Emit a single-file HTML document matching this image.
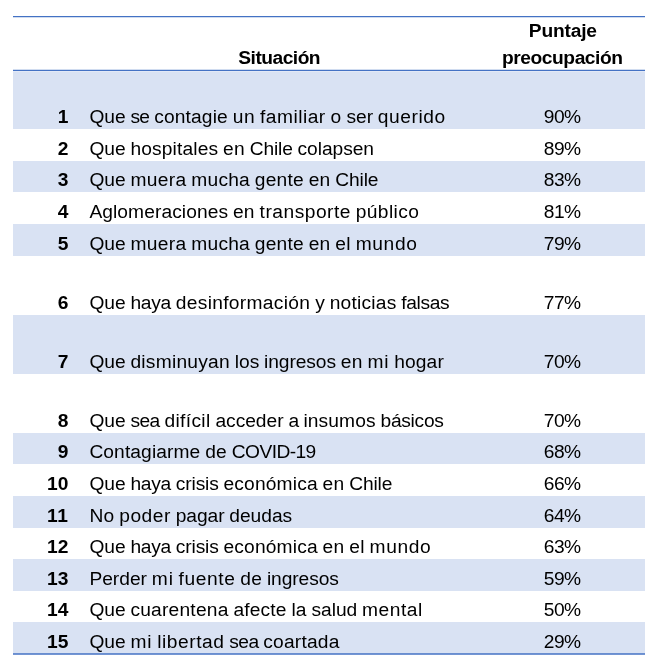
<!DOCTYPE html>
<html lang="es">
<head>
<meta charset="utf-8">
<title>Puntaje preocupación</title>
<style>
html,body{margin:0;padding:0;background:#fff;}
body{width:661px;height:664px;position:relative;overflow:hidden;font-family:"Liberation Sans",sans-serif;color:#000;}
.band{position:absolute;left:13px;width:632px;background:#d9e2f3;}
.ln{position:absolute;left:13px;width:632px;background:#4472c4;}
.t{position:absolute;white-space:pre;font-size:19.2px;line-height:24px;height:24px;}
.t span{position:absolute;top:0;left:0;white-space:pre;}
.b{font-weight:700;}
.r{font-weight:400;}
</style>
</head>
<body>

<div class="band" style="top:70px;height:59px"></div>
<div class="band" style="top:161px;height:31px"></div>
<div class="band" style="top:224px;height:32px"></div>
<div class="band" style="top:315px;height:59px"></div>
<div class="band" style="top:433px;height:31px"></div>
<div class="band" style="top:496px;height:32px"></div>
<div class="band" style="top:559px;height:32px"></div>
<div class="band" style="top:622px;height:31px"></div>
<div class="ln" style="top:16px;height:1px"></div>
<div class="ln" style="top:17px;height:1px;opacity:.25"></div>
<div class="ln" style="top:69px;height:1px;opacity:.25"></div>
<div class="ln" style="top:70px;height:1px"></div>
<div class="ln" style="top:71px;height:1px;background:#e3e9f6"></div>
<div class="ln" style="top:653px;height:1px;opacity:.8"></div>
<div class="ln" style="top:654px;height:1px;opacity:.75"></div>
<div class="t b" style="left:238.31px;top:45.75px;letter-spacing:-0.509px">Situación</div>
<div class="t b" style="left:528.82px;top:19.05px;letter-spacing:-0.194px">Puntaje</div>
<div class="t b" style="left:502.08px;top:45.75px;letter-spacing:-0.448px">preocupación</div>
<div class="t b" style="left:57.69px;top:104.85px;letter-spacing:0.14px">1</div>
<div class="t r" style="left:89.4px;top:104.85px"><span style="left:0px;letter-spacing:-0.035px">Que </span><span style="left:41px;letter-spacing:-0.654px">se </span><span style="left:64.78px;letter-spacing:0.152px">contagie </span><span style="left:143.36px;letter-spacing:0.536px">un </span><span style="left:170.6px;letter-spacing:0.482px">familiar </span><span style="left:241.12px;letter-spacing:0.578px">o </span><span style="left:257.19px;letter-spacing:-0.087px">ser </span><span style="left:288.41px;letter-spacing:0.544px">querido</span></div>
<div class="t r" style="left:543.76px;top:104.85px;letter-spacing:-0.511px">90%</div>
<div class="t b" style="left:57.69px;top:136.85px;letter-spacing:0.14px">2</div>
<div class="t r" style="left:89.4px;top:136.85px"><span style="left:0px;letter-spacing:-0.035px">Que </span><span style="left:41px;letter-spacing:0.146px">hospitales </span><span style="left:133.69px;letter-spacing:0.239px">en </span><span style="left:160.33px;letter-spacing:-0.149px">Chile </span><span style="left:208.14px;letter-spacing:-0.042px">colapsen</span></div>
<div class="t r" style="left:543.76px;top:136.85px;letter-spacing:-0.511px">89%</div>
<div class="t b" style="left:57.69px;top:167.85px;letter-spacing:0.14px">3</div>
<div class="t r" style="left:89.4px;top:167.85px"><span style="left:0px;letter-spacing:-0.035px">Que </span><span style="left:41px;letter-spacing:0.338px">muera </span><span style="left:101.9px;letter-spacing:0.221px">mucha </span><span style="left:165.42px;letter-spacing:0.201px">gente </span><span style="left:219.27px;letter-spacing:0.239px">en </span><span style="left:245.91px;letter-spacing:-0.149px">Chile</span></div>
<div class="t r" style="left:543.76px;top:167.85px;letter-spacing:-0.511px">83%</div>
<div class="t b" style="left:57.69px;top:199.85px;letter-spacing:0.14px">4</div>
<div class="t r" style="left:89.4px;top:199.85px"><span style="left:0px;letter-spacing:0.082px">Aglomeraciones </span><span style="left:143.56px;letter-spacing:0.239px">en </span><span style="left:170.21px;letter-spacing:0.495px">transporte </span><span style="left:266.37px;letter-spacing:0.385px">público</span></div>
<div class="t r" style="left:543.76px;top:199.85px;letter-spacing:-0.511px">81%</div>
<div class="t b" style="left:57.69px;top:231.85px;letter-spacing:0.14px">5</div>
<div class="t r" style="left:89.4px;top:231.85px"><span style="left:0px;letter-spacing:-0.035px">Que </span><span style="left:41px;letter-spacing:0.338px">muera </span><span style="left:101.9px;letter-spacing:0.221px">mucha </span><span style="left:165.42px;letter-spacing:0.201px">gente </span><span style="left:219.27px;letter-spacing:0.239px">en </span><span style="left:245.91px;letter-spacing:0.286px">el </span><span style="left:266.25px;letter-spacing:0.649px">mundo</span></div>
<div class="t r" style="left:543.76px;top:231.85px;letter-spacing:-0.511px">79%</div>
<div class="t b" style="left:57.69px;top:290.85px;letter-spacing:0.14px">6</div>
<div class="t r" style="left:89.4px;top:290.85px"><span style="left:0px;letter-spacing:-0.035px">Que </span><span style="left:41px;letter-spacing:-0.257px">haya </span><span style="left:86.4px;letter-spacing:0.315px">desinformación </span><span style="left:225.76px;letter-spacing:0.062px">y </span><span style="left:240.24px;letter-spacing:0.22px">noticias </span><span style="left:311.88px;letter-spacing:-0.335px">falsas</span></div>
<div class="t r" style="left:543.76px;top:290.85px;letter-spacing:-0.511px">77%</div>
<div class="t b" style="left:57.69px;top:349.85px;letter-spacing:0.14px">7</div>
<div class="t r" style="left:89.4px;top:349.85px"><span style="left:0px;letter-spacing:-0.035px">Que </span><span style="left:41px;letter-spacing:0.25px">disminuyan </span><span style="left:145.38px;letter-spacing:-0.014px">los </span><span style="left:174.7px;letter-spacing:-0.085px">ingresos </span><span style="left:251.37px;letter-spacing:0.239px">en </span><span style="left:278.02px;letter-spacing:0.844px">mi </span><span style="left:304.78px;letter-spacing:0.136px">hogar</span></div>
<div class="t r" style="left:543.76px;top:349.85px;letter-spacing:-0.511px">70%</div>
<div class="t b" style="left:57.69px;top:408.85px;letter-spacing:0.14px">8</div>
<div class="t r" style="left:89.4px;top:408.85px"><span style="left:0px;letter-spacing:-0.035px">Que </span><span style="left:41px;letter-spacing:-0.587px">sea </span><span style="left:75px;letter-spacing:0.356px">difícil </span><span style="left:126.03px;letter-spacing:-0.019px">acceder </span><span style="left:198.99px;letter-spacing:-0.453px">a </span><span style="left:214.03px;letter-spacing:0.12px">insumos </span><span style="left:291.14px;letter-spacing:-0.28px">básicos</span></div>
<div class="t r" style="left:543.76px;top:408.85px;letter-spacing:-0.511px">70%</div>
<div class="t b" style="left:57.69px;top:439.85px;letter-spacing:0.14px">9</div>
<div class="t r" style="left:89.4px;top:439.85px"><span style="left:0px;letter-spacing:0.103px">Contagiarme </span><span style="left:115.81px;letter-spacing:0.239px">de </span><span style="left:142.46px;letter-spacing:-0.586px">COVID-19</span></div>
<div class="t r" style="left:543.76px;top:439.85px;letter-spacing:-0.511px">68%</div>
<div class="t b" style="left:46.88px;top:471.85px;letter-spacing:0.14px">10</div>
<div class="t r" style="left:89.4px;top:471.85px"><span style="left:0px;letter-spacing:-0.035px">Que </span><span style="left:41px;letter-spacing:-0.257px">haya </span><span style="left:86.4px;letter-spacing:-0.128px">crisis </span><span style="left:134.16px;letter-spacing:0.152px">económica </span><span style="left:233.15px;letter-spacing:0.239px">en </span><span style="left:259.8px;letter-spacing:-0.149px">Chile</span></div>
<div class="t r" style="left:543.76px;top:471.85px;letter-spacing:-0.511px">66%</div>
<div class="t b" style="left:46.88px;top:503.85px;letter-spacing:0.664px">11</div>
<div class="t r" style="left:89.4px;top:503.85px"><span style="left:0px;letter-spacing:0.245px">No </span><span style="left:29.84px;letter-spacing:0.528px">poder </span><span style="left:86.38px;letter-spacing:-0.07px">pagar </span><span style="left:139.94px;letter-spacing:-0.025px">deudas</span></div>
<div class="t r" style="left:543.76px;top:503.85px;letter-spacing:-0.511px">64%</div>
<div class="t b" style="left:46.88px;top:534.85px;letter-spacing:0.14px">12</div>
<div class="t r" style="left:89.4px;top:534.85px"><span style="left:0px;letter-spacing:-0.035px">Que </span><span style="left:41px;letter-spacing:-0.257px">haya </span><span style="left:86.4px;letter-spacing:-0.128px">crisis </span><span style="left:134.16px;letter-spacing:0.152px">económica </span><span style="left:233.15px;letter-spacing:0.239px">en </span><span style="left:259.8px;letter-spacing:0.286px">el </span><span style="left:280.13px;letter-spacing:0.649px">mundo</span></div>
<div class="t r" style="left:543.76px;top:534.85px;letter-spacing:-0.511px">63%</div>
<div class="t b" style="left:46.88px;top:566.85px;letter-spacing:0.14px">13</div>
<div class="t r" style="left:89.4px;top:566.85px"><span style="left:0px;letter-spacing:0.003px">Perder </span><span style="left:62.44px;letter-spacing:0.844px">mi </span><span style="left:89.2px;letter-spacing:0.586px">fuente </span><span style="left:150.89px;letter-spacing:0.239px">de </span><span style="left:177.54px;letter-spacing:-0.085px">ingresos</span></div>
<div class="t r" style="left:543.76px;top:566.85px;letter-spacing:-0.511px">59%</div>
<div class="t b" style="left:46.88px;top:597.85px;letter-spacing:0.14px">14</div>
<div class="t r" style="left:89.4px;top:597.85px"><span style="left:0px;letter-spacing:-0.035px">Que </span><span style="left:41px;letter-spacing:0.217px">cuarentena </span><span style="left:144.01px;letter-spacing:0.16px">afecte </span><span style="left:202.07px;letter-spacing:0.088px">la </span><span style="left:222.01px;letter-spacing:-0.0px">salud </span><span style="left:272.7px;letter-spacing:0.512px">mental</span></div>
<div class="t r" style="left:543.76px;top:597.85px;letter-spacing:-0.511px">50%</div>
<div class="t b" style="left:46.88px;top:629.85px;letter-spacing:0.14px">15</div>
<div class="t r" style="left:89.4px;top:629.85px"><span style="left:0px;letter-spacing:-0.035px">Que </span><span style="left:41px;letter-spacing:0.844px">mi </span><span style="left:67.76px;letter-spacing:0.553px">libertad </span><span style="left:139.95px;letter-spacing:-0.587px">sea </span><span style="left:173.95px;letter-spacing:0.201px">coartada</span></div>
<div class="t r" style="left:543.76px;top:629.85px;letter-spacing:-0.511px">29%</div>
</body>
</html>
